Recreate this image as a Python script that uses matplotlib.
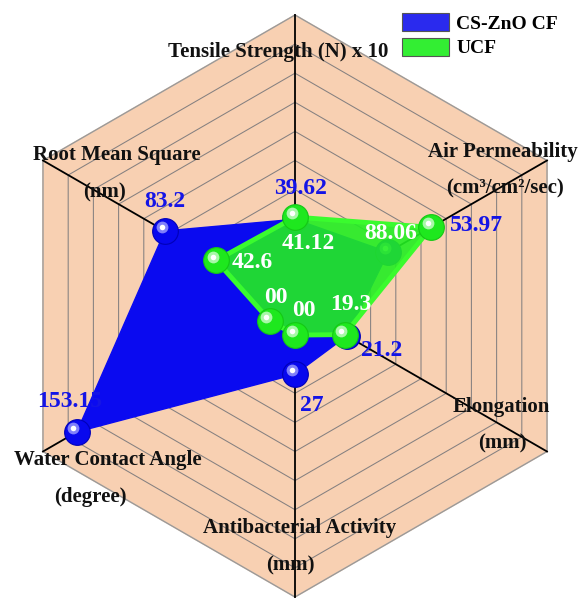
import numpy as np
import matplotlib
matplotlib.use("Agg")
import matplotlib.pyplot as plt
from matplotlib.patches import Patch
from matplotlib.transforms import ScaledTranslation

# ---------------- data ----------------
axis_names = ["Tensile Strength (N) x 10", "Air Permeability", "Elongation",
              "Antibacterial Activity", "Water Contact Angle", "Root Mean Square"]
axis_units = ["", "(cm³/cm²/sec)", "(mm)", "(mm)", "(degree)", "(nm)"]
series_names = ["CS-ZnO CF", "UCF"]
cs_zno_values = [39.62, 53.97, 21.2, 27, 153.15, 83.2]
ucf_values = [41.12, 88.06, 19.3, 0, 0, 42.6]
cs_zno_labels = ["39.62", "53.97", "21.2", "27", "153.15", "83.2"]
ucf_labels = ["41.12", "88.06", "19.3", "00", "00", "42.6"]
r_min, r_max, r_step = -20, 180, 20

# ---------------- figure ----------------
W, H = 581, 598
fig = plt.figure(figsize=(W / 100, H / 100), dpi=100)
serif = ["Liberation Serif", "DejaVu Serif"]

cx, cy, R = 295, 306, 291
ax = fig.add_axes([(cx - R) / W, (H - cy - R) / H, 2 * R / W, 2 * R / H],
                  projection="polar")
ax.set_theta_offset(np.pi / 2)
ax.set_theta_direction(-1)
ax.set_ylim(r_min, r_max)
ax.grid(False)
ax.set_xticks([])
ax.set_yticks([])
ax.spines["polar"].set_visible(False)
ax.patch.set_visible(False)

n = len(axis_names)
angles = np.linspace(0, 2 * np.pi, n, endpoint=False)
ang_c = np.concatenate([angles, angles[:1]])

# background hexagon
ax.fill(ang_c, [r_max] * (n + 1), color="#F8D0B2", zorder=0, clip_on=False)
ax.plot(ang_c, [r_max] * (n + 1), color="#9a9a9a", lw=1.0, zorder=1, clip_on=False)
for rv in np.arange(r_min + r_step, r_max, r_step):
    ax.plot(ang_c, [rv] * (n + 1), color="#858080", lw=0.75, zorder=1)
for a in angles:
    ax.plot([a, a], [r_min, r_max], color="black", lw=1.3, zorder=2, clip_on=False)

def close(v):
    v = list(v)
    return v + v[:1]

blue = "#0A0AF0"
green = "#22EE22"

# blue series
ax.fill(ang_c, close(cs_zno_values), color=blue, zorder=3, lw=1)
ax.plot(angles, cs_zno_values, "o", ms=18.5, color="#0808EE", mec="#0000B8",
        mew=0.8, zorder=4, clip_on=False)
# green series
ax.fill(ang_c, close(ucf_values), facecolor=green, alpha=0.9, edgecolor="none", zorder=5)
ax.plot(ang_c, close(ucf_values), color="#3AFB2E", lw=3.5, zorder=5.5)
ax.plot(angles, ucf_values, "o", ms=18.5, color="#1EE81E", mec="#14C814",
        mew=0.8, zorder=6, clip_on=False)

# sphere highlights
hl = ax.transData + ScaledTranslation(-2.4 / 72, 2.8 / 72, fig.dpi_scale_trans)
ax.plot(angles, cs_zno_values, "o", ms=8.5, color="#8080FA", mew=0, zorder=4.1,
        transform=hl, clip_on=False)
ax.plot(angles, cs_zno_values, "o", ms=4, color="white", mew=0, zorder=4.2,
        transform=hl, clip_on=False)
ax.plot(angles, ucf_values, "o", ms=8.5, color="#A8F8A8", mew=0, zorder=6.1,
        transform=hl, clip_on=False)
ax.plot(angles, ucf_values, "o", ms=4, color="white", mew=0, zorder=6.2,
        transform=hl, clip_on=False)

# value labels (offsets in points)
blue_off = [(4.3, 22.3), (63.4, 19.4), (25.2, -10.1), (12.2, -22.3), (-5, 21.6), (0, 20.9)]
green_off = [(9.4, -18.7), (-29.5, -4.3), (4.7, 21.6), (6.5, 18), (4.3, 16.9), (25.9, -1.8)]
for a, v, s, o in zip(angles, cs_zno_values, cs_zno_labels, blue_off):
    ax.annotate(s, (a, v), xytext=o, textcoords="offset points", ha="center",
                va="center", color="#1414E6", fontsize=17, fontweight="bold",
                family=serif, zorder=10, annotation_clip=False)
for a, v, s, o in zip(angles, ucf_values, ucf_labels, green_off):
    ax.annotate(s, (a, v), xytext=o, textcoords="offset points", ha="center",
                va="center", color="white", fontsize=17, fontweight="bold",
                family=serif, zorder=10, annotation_clip=False)

# axis titles (pixel positions of centres)
name_pos = [(278, 52), (503, 152), (501, 407), (300, 528), (108, 460), (117, 155)]
unit_pos = [None, (505, 188), (502, 443), (290, 565), (90, 497), (105, 192)]
for name, unit, p, q in zip(axis_names, axis_units, name_pos, unit_pos):
    fig.text(p[0] / W, 1 - p[1] / H, name, ha="center", va="center",
             fontsize=15, fontweight="bold", family=serif, color="#111111")
    if unit:
        fig.text(q[0] / W, 1 - q[1] / H, unit, ha="center", va="center",
                 fontsize=15, fontweight="bold", family=serif, color="#111111")

# legend
handles = [Patch(facecolor="#2A2AEE", edgecolor="#555555", lw=0.8),
           Patch(facecolor="#33EE33", edgecolor="#555555", lw=0.8)]
fig.legend(handles, series_names, loc="upper left",
           bbox_to_anchor=(402 / W, 1 - 13 / H), frameon=False, borderpad=0,
           borderaxespad=0, handlelength=2.4, handleheight=1.05,
           handletextpad=0.4, labelspacing=0.25,
           prop={"family": serif, "weight": "bold", "size": 14})

fig.savefig("out.png", dpi=100, facecolor="white")
